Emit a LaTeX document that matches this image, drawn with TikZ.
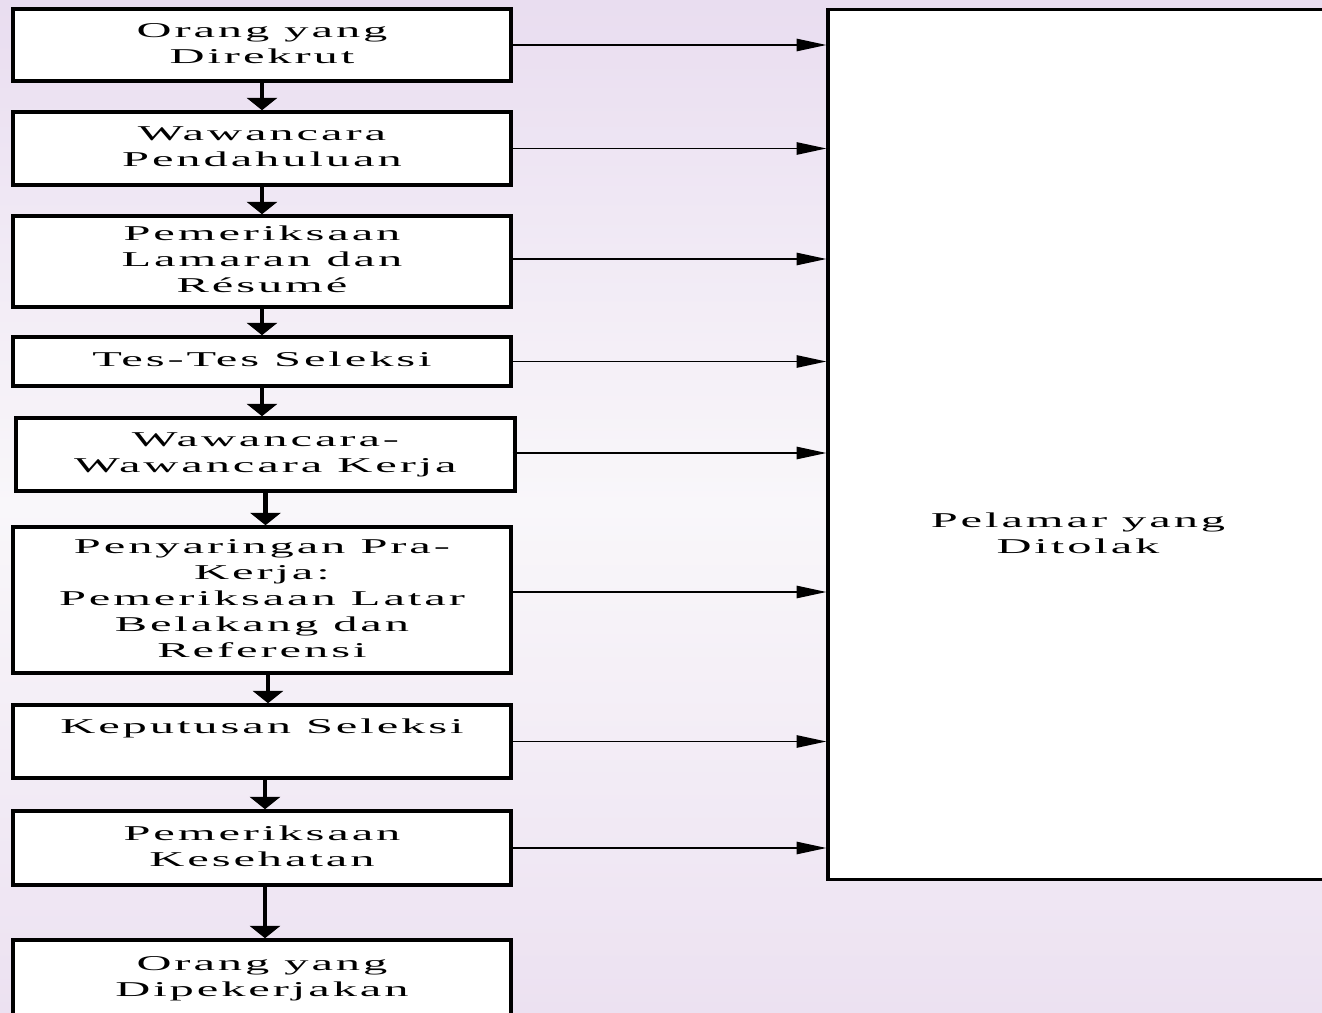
\documentclass[tikz,border=0pt]{standalone}
\usepackage{graphicx}
\usepackage{fontspec}
\setmainfont{Liberation Serif}
\newfontfamily\widefont[LetterSpace=6]{Liberation Serif}
\usetikzlibrary{arrows.meta}

\definecolor{bgtop}{RGB}{233,221,240}
\definecolor{bgmid}{RGB}{249,247,250}
\definecolor{bgbot}{RGB}{236,225,241}

\newcommand{\widetext}[1]{\scalebox{2.3}[1]{\begin{tabular}{@{}c@{}}#1\end{tabular}}}

\tikzset{
  stagebox/.style={draw=black, line width=2pt, fill=white, minimum width=9.96cm,
    inner sep=0pt, align=center, font=\widefont\fontsize{12}{14.8}\selectfont},
  downarrow/.style={line width=2.3pt, -{Triangle[width=17pt,length=7pt]}},
  rejectarrow/.style={line width=1pt, -{Triangle[width=7pt,length=17pt]}}
}

\begin{document}
\begin{tikzpicture}[x=0.02cm,y=-0.02cm]
            \useasboundingbox (0,0) rectangle (1322,1013);
            \clip (0,0) rectangle (1322,1013);
            \shade[top color=bgtop, bottom color=bgbot, middle color=bgmid] (0,0) rectangle (1322,1013);

            % tahapan seleksi
            \node[stagebox, minimum height=1.44cm] (direkrut) at (262,45) {\widetext{Orang yang\\Direkrut}};
            \node[stagebox, minimum height=1.46cm] (pendahuluan) at (262,148.5) {\widetext{Wawancara\\Pendahuluan}};
            \node[stagebox, minimum height=1.82cm] (lamaran) at (262,261.5) {\widetext{Pemeriksaan\\Lamaran dan\\Résumé}};
            \node[stagebox, minimum height=0.98cm] (tes) at (262,361.5) {\widetext{Tes-Tes Seleksi}};
            \node[stagebox, minimum height=1.46cm, minimum width=9.98cm] (kerja) at (265.5,454.5) {\widetext{Wawancara-\\Wawancara Kerja}};
            \node[stagebox, minimum height=2.92cm] (penyaringan) at (262,600) {\widetext{Penyaringan Pra-\\Kerja:\\Pemeriksaan Latar\\Belakang dan\\Referensi}};
            \node[stagebox, minimum height=1.46cm] (keputusan) at (262,741.5) {\widetext{Keputusan Seleksi\\\mbox{}}};
            \node[stagebox, minimum height=1.48cm] (kesehatan) at (262,848) {\widetext{Pemeriksaan\\Kesehatan}};
            \node[stagebox, minimum height=1.52cm] (dipekerjakan) at (262,978) {\widetext{Orang yang\\Dipekerjakan}};

            % pelamar yang ditolak
            \node[draw=black, line width=1.8pt, fill=white, minimum width=10cm, minimum height=17.42cm] (ditolak) at (1078,444.5) {};
            \node[font=\widefont\fontsize{12}{14.8}\selectfont, align=center] (ditolaktext) at (1078,535) {\widetext{Pelamar yang\\Ditolak}};

            \draw[downarrow] (direkrut.south) -- (direkrut.south |- pendahuluan.north);
            \draw[downarrow] (pendahuluan.south) -- (pendahuluan.south |- lamaran.north);
            \draw[downarrow] (lamaran.south) -- (lamaran.south |- tes.north);
            \draw[downarrow] (tes.south) -- (tes.south |- kerja.north);
            \draw[downarrow] (kerja.south) -- (kerja.south |- penyaringan.north);
            \draw[downarrow] ([xshift=0.12cm]penyaringan.south) -- ([xshift=0.12cm]penyaringan.south |- keputusan.north);
            \draw[downarrow] ([xshift=0.06cm]keputusan.south) -- ([xshift=0.06cm]keputusan.south |- kesehatan.north);
            \draw[downarrow] ([xshift=0.06cm]kesehatan.south) -- ([xshift=0.06cm]kesehatan.south |- dipekerjakan.north);

            \foreach \Stage in {direkrut, pendahuluan, tes, keputusan, kesehatan}{
                \draw[rejectarrow] (\Stage.east) -- (\Stage.east -| ditolak.west);
            }
            \draw[rejectarrow] ([yshift=0.05cm]lamaran.east) -- ([yshift=0.05cm]lamaran.east -| ditolak.west);
            \draw[rejectarrow] ([xshift=-0.08cm,yshift=0.03cm]kerja.east) -- ([yshift=0.03cm]kerja.east -| ditolak.west);
            \draw[rejectarrow] ([yshift=0.16cm]penyaringan.east) -- ([yshift=0.16cm]penyaringan.east -| ditolak.west);
        \end{tikzpicture}
\end{document}
